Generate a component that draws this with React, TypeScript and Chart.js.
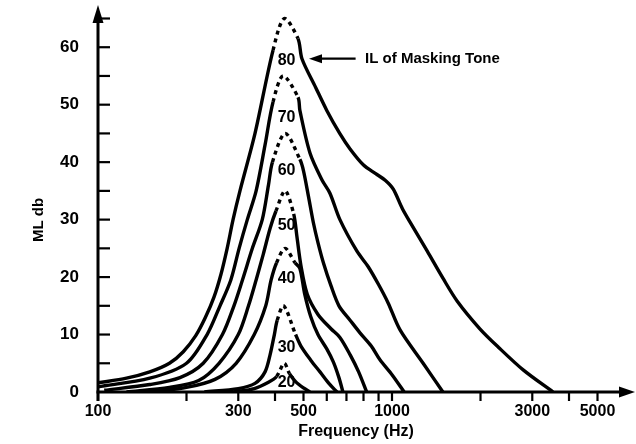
import { useEffect, useRef } from "react";
import { Chart, registerables } from "chart.js";

Chart.register(...registerables);

// ---- data ----
const ilLevels = [20, 30, 40, 50, 60, 70, 80];

const il20Hz = [290, 340, 380, 405, 430, 448, 470, 500, 526];
const il20Db = [0, 0.6, 1.7, 2.7, 5, 3.2, 1.8, 0.7, 0];

const il30Hz = [230, 300, 342, 370, 385, 398, 407, 428, 470, 490, 530, 569, 610, 650];
const il30Db = [0, 0.6, 1.5, 3.5, 6.5, 10, 12.5, 15, 10, 8, 5.5, 3.5, 1.5, 0];

const il40Hz = [150, 200, 250, 295, 340, 372, 388, 405, 433, 468, 486, 505, 530, 560, 600, 632, 660, 681];
const il40Db = [0, 0.8, 2.2, 5, 10, 15, 19.5, 22.5, 25, 22.5, 21.5, 17, 13, 10, 7.5, 5.2, 2.5, 0];

const il50Hz = [125, 175, 220, 258, 300, 325, 345, 365, 385, 403, 433, 463, 475, 490, 515, 560, 620, 665, 720, 770, 820];
const il50Db = [0, 0.8, 2, 5, 10, 15, 19.5, 24, 28.5, 31.5, 35, 31, 27, 22, 17, 13.5, 11, 9.5, 6.5, 3.5, 0];

const il60Hz = [105, 150, 190, 228, 265, 290, 310, 335, 362, 380, 392, 433, 486, 500, 520, 540, 560, 585, 620, 660, 720, 778, 850, 910, 1000, 1100];
const il60Db = [0.3, 1.3, 2.5, 5, 10, 15, 19.5, 25, 30, 36, 40, 45, 40.5, 38.5, 34, 29.5, 26, 22.4, 18.5, 15, 12.5, 10.3, 8, 5.6, 3, 0];

const il70Hz = [100, 150, 200, 235, 260, 283, 302, 322, 345, 370, 394, 426, 479, 486, 526, 578, 615, 665, 760, 830, 900, 970, 1065, 1276, 1490];
const il70Db = [0.9, 2.4, 5, 10, 15, 19.5, 25, 30, 35, 43, 50.5, 55, 51.3, 49, 41.6, 36.9, 34.6, 30, 24.5, 21.8, 18.7, 15.5, 10.8, 5, 0];

const il80Hz = [100, 125, 150, 175, 195, 215, 232, 248, 262, 275, 288, 304, 342, 394, 430, 479, 494, 550, 600, 664, 720, 800, 880, 950, 1010, 1085, 1160, 1318, 1490, 1667, 1990, 2300, 2800, 3530];
const il80Db = [1.6, 2.4, 3.5, 5, 7, 9.8, 13, 16.5, 20.5, 25, 30, 35, 45, 59.5, 65, 61.5, 58, 53, 49, 45, 42.3, 39.5, 38, 36.8, 35.3, 31.9, 29.3, 24.5, 19.8, 15.8, 11, 7.8, 3.8, 0];

// dashed (uncertain) peak region of each curve, low / high frequency limits
const dashLowHz = [405, 407, 405, 403, 392, 394, 394];
const dashHighHz = [448, 470, 468, 463, 486, 479, 479];

// curve level labels
const labelHz = 438;
const labelDb = [1.6, 7.7, 19.7, 29, 38.6, 47.8, 57.7];

// axis ticks
const xTickHz = [100, 200, 300, 400, 500, 600, 700, 800, 900, 1000, 2000, 3000, 4000, 5000];
const xLabelHz = [100, 300, 500, 1000, 3000, 5000];
const yLabelDb = [0, 10, 20, 30, 40, 50, 60];
const yMinorDb = [5, 10, 15, 20, 25, 30, 35, 40, 45, 50, 55, 60, 65];

const annotationText = "IL of Masking Tone";
const annotationHz = 810;
const annotationDb = 58;
const arrowFromHz = 752;
const arrowToHz = 522;

const xTitle = "Frequency (Hz)";
const yTitle = "ML db";

const FONT = '"Liberation Sans", Arial, Helvetica, sans-serif';

const curvesHz = [il20Hz, il30Hz, il40Hz, il50Hz, il60Hz, il70Hz, il80Hz];
const curvesDb = [il20Db, il30Db, il40Db, il50Db, il60Db, il70Db, il80Db];

const overlay = {
  id: "overlay",
  afterDatasetsDraw(chart: any) {
    const { ctx, chartArea } = chart;
    const xs = chart.scales.x;
    const ys = chart.scales.y;
    const x0 = xs.getPixelForValue(100);
    const y0 = ys.getPixelForValue(0);
    ctx.save();
    ctx.strokeStyle = "#000";
    ctx.fillStyle = "#000";
    ctx.lineWidth = 3;
    ctx.lineCap = "butt";
    // y axis
    ctx.beginPath();
    ctx.moveTo(x0, y0 + 9);
    ctx.lineTo(x0, chartArea.top + 12);
    ctx.stroke();
    ctx.beginPath();
    ctx.moveTo(x0, chartArea.top - 2);
    ctx.lineTo(x0 - 5.5, chartArea.top + 16);
    ctx.lineTo(x0 + 5.5, chartArea.top + 16);
    ctx.closePath();
    ctx.fill();
    // x axis
    ctx.beginPath();
    ctx.moveTo(x0 - 1.5, y0);
    ctx.lineTo(chartArea.right - 6, y0);
    ctx.stroke();
    ctx.beginPath();
    ctx.moveTo(chartArea.right + 4, y0);
    ctx.lineTo(chartArea.right - 12, y0 - 5.5);
    ctx.lineTo(chartArea.right - 12, y0 + 5.5);
    ctx.closePath();
    ctx.fill();
    // y tick marks (inside)
    ctx.lineWidth = 2.2;
    for (const v of yMinorDb) {
      const py = ys.getPixelForValue(v);
      ctx.beginPath();
      ctx.moveTo(x0, py);
      ctx.lineTo(x0 + 12, py);
      ctx.stroke();
    }
    // x tick marks (below)
    for (const v of xTickHz) {
      const px = xs.getPixelForValue(v);
      ctx.beginPath();
      ctx.moveTo(px, y0);
      ctx.lineTo(px, y0 + 9);
      ctx.stroke();
    }
    // curve labels
    ctx.font = `bold 16px ${FONT}`;
    ctx.textAlign = "center";
    ctx.textBaseline = "middle";
    ilLevels.forEach((lv, i) => {
      ctx.fillText(String(lv), xs.getPixelForValue(labelHz), ys.getPixelForValue(labelDb[i]));
    });
    // annotation
    const ay = ys.getPixelForValue(annotationDb);
    ctx.font = `bold 15px ${FONT}`;
    ctx.textAlign = "left";
    ctx.fillText(annotationText, xs.getPixelForValue(annotationHz), ay);
    const ax1 = xs.getPixelForValue(arrowFromHz);
    const ax2 = xs.getPixelForValue(arrowToHz);
    ctx.lineWidth = 2.2;
    ctx.beginPath();
    ctx.moveTo(ax1, ay);
    ctx.lineTo(ax2 + 10, ay);
    ctx.stroke();
    ctx.beginPath();
    ctx.moveTo(ax2, ay);
    ctx.lineTo(ax2 + 13, ay - 4.5);
    ctx.lineTo(ax2 + 13, ay + 4.5);
    ctx.closePath();
    ctx.fill();
    // axis titles
    ctx.font = `bold 16px ${FONT}`;
    ctx.textAlign = "center";
    ctx.fillText(xTitle, 356, 432);
    ctx.save();
    ctx.translate(39, 220);
    ctx.rotate(-Math.PI / 2);
    ctx.font = `bold 15px ${FONT}`;
    ctx.fillText(yTitle, 0, 0);
    ctx.restore();
    ctx.restore();
  },
};

export default function App() {
  const ref = useRef<HTMLCanvasElement>(null);
  useEffect(() => {
    document.body.style.margin = "0";
    const datasets = curvesHz.map((hz, i) => {
      const lo = dashLowHz[i];
      const hi = dashHighHz[i];
      return {
        label: `IL ${ilLevels[i]}`,
        data: hz.map((f, j) => ({ x: f, y: curvesDb[i][j] })),
        borderColor: "#000",
        borderWidth: 3.4,
        pointRadius: 0,
        fill: false,
        tension: 0.3,
        borderJoinStyle: "round" as const,
        segment: {
          borderDash: (c: any) =>
            c.p0.parsed.x >= lo - 0.5 && c.p1.parsed.x <= hi + 0.5 ? [4, 4] : undefined,
        },
      };
    });
    const chart = new Chart(ref.current!, {
      type: "line",
      data: { datasets },
      options: {
        animation: false,
        responsive: false,
        layout: { padding: { top: 7, right: 5, left: 0, bottom: 0 } },
        plugins: { legend: { display: false }, tooltip: { enabled: false } },
        scales: {
          x: {
            type: "logarithmic",
            min: 100,
            max: 6500,
            grid: { display: false },
            border: { display: false },
            afterBuildTicks: (s: any) => {
              s.ticks = xTickHz.map((v) => ({ value: v }));
            },
            afterFit: (s: any) => {
              s.height = 52;
              s.paddingLeft = 0;
              s.paddingRight = 0;
            },
            ticks: {
              autoSkip: false,
              maxRotation: 0,
              minRotation: 0,
              padding: 2,
              color: "#000",
              font: { family: FONT, size: 16, weight: "bold" },
              callback: (v: any) => (xLabelHz.includes(Number(v)) ? String(v) : ""),
            },
          },
          y: {
            type: "linear",
            min: 0,
            max: 67,
            grid: { display: false },
            border: { display: false },
            afterBuildTicks: (s: any) => {
              s.ticks = yLabelDb.map((v) => ({ value: v }));
            },
            afterFit: (s: any) => {
              s.width = 98;
              s.paddingTop = 0;
              s.paddingBottom = 0;
            },
            ticks: {
              padding: 11,
              color: "#000",
              font: { family: FONT, size: 17, weight: "bold" },
              callback: (v: any) => String(v),
            },
          },
        },
      },
      plugins: [overlay],
    } as any);
    return () => chart.destroy();
  }, []);
  return (
    <div style={{ width: 636, height: 444, background: "#fff" }}>
      <canvas ref={ref} width={636} height={444} style={{ display: "block" }} />
    </div>
  );
}
